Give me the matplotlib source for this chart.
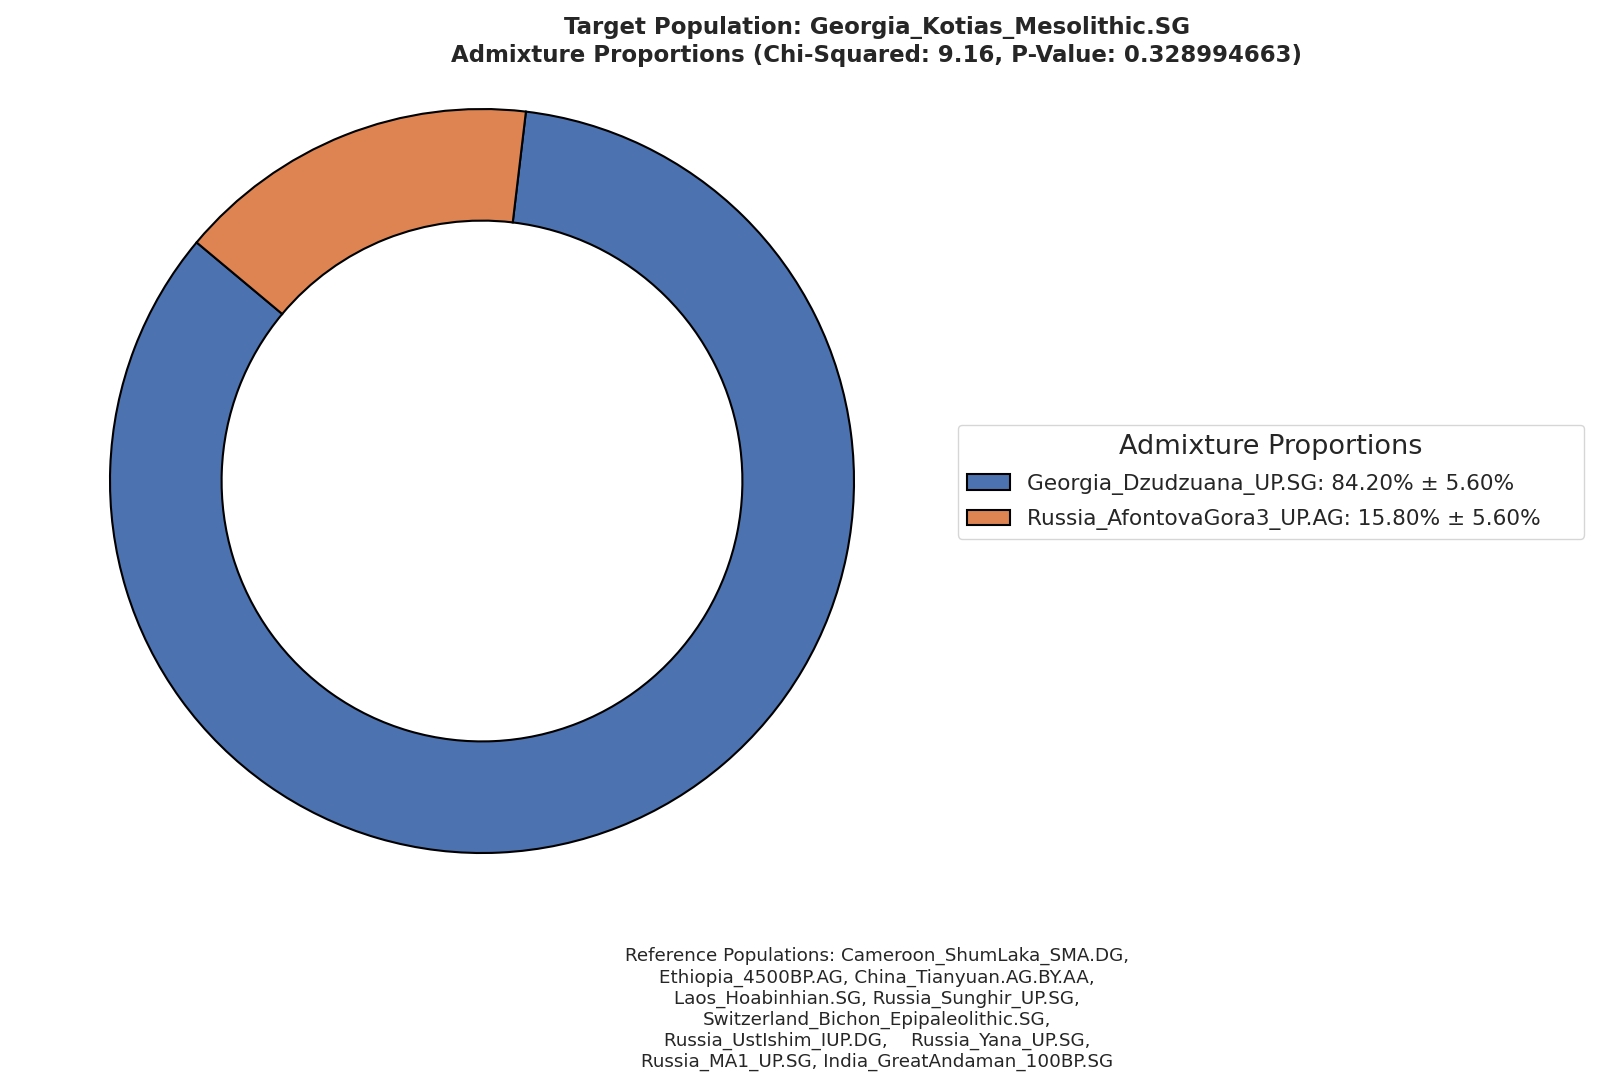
import matplotlib
matplotlib.use("Agg")
import matplotlib.pyplot as plt
import seaborn as sns

sns.set_theme(style="white")
plt.rcParams['font.family'] = ['DejaVu Sans']

labels = ["Georgia_Dzudzuana_UP.SG", "Russia_AfontovaGora3_UP.AG"]
proportions = [84.20, 15.80]
errors = [5.60, 5.60]
colors = ["#4C72B0", "#DD8452"]
target = "Georgia_Kotias_Mesolithic.SG"
chi2 = 9.16
pval = 0.328994663
ref_text = ("Reference Populations: Cameroon_ShumLaka_SMA.DG,\n"
            "Ethiopia_4500BP.AG, China_Tianyuan.AG.BY.AA,\n"
            "Laos_Hoabinhian.SG, Russia_Sunghir_UP.SG,\n"
            "Switzerland_Bichon_Epipaleolithic.SG,\n"
            "Russia_UstIshim_IUP.DG,    Russia_Yana_UP.SG,\n"
            "Russia_MA1_UP.SG, India_GreatAndaman_100BP.SG")

fig = plt.figure(figsize=(16, 10.9), dpi=100)
ax = fig.add_axes([0.06875, 0.2174, 0.465, 0.6826])
wedges, _ = ax.pie(proportions, colors=colors, startangle=140.1, radius=1.0,
                   wedgeprops=dict(width=0.3, edgecolor="black", linewidth=1.5))
ax.set_xlim(-1, 1)
ax.set_ylim(-1, 1)
ax.set_aspect("equal")

leg_labels = [f"{l}: {p:.2f}% ± {e:.2f}%     " for l, p, e in zip(labels, proportions, errors)]
leg = fig.legend(wedges, leg_labels, title="Admixture Proportions",
                 loc="center left", bbox_to_anchor=(0.592, 0.558),
                 fontsize=15.55, title_fontsize=19.5, handleheight=0.75,
                 labelspacing=0.66)

fig.text(0.548, 0.985, f"Target Population: {target}\nAdmixture Proportions (Chi-Squared: {chi2:.2f}, P-Value: {pval:.9f})",
         ha="center", va="top", fontsize=16.5, fontweight="bold", multialignment="center",
         linespacing=1.25)

fig.text(0.548, 0.131, ref_text, ha="center", va="top", fontsize=13.2, multialignment="center",
         linespacing=1.2)

fig.savefig("out.png", dpi=100)
